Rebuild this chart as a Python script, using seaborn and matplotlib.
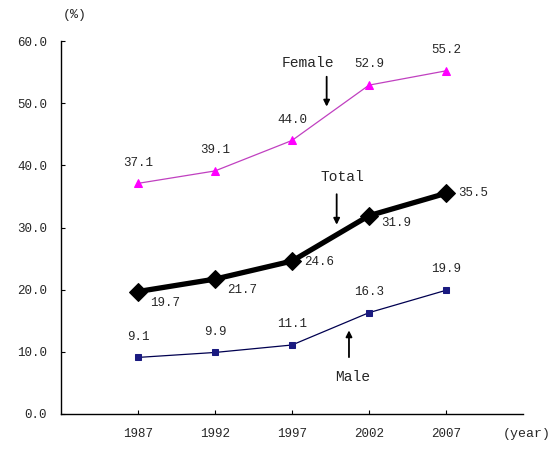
import numpy as np
import pandas as pd
import matplotlib
matplotlib.use("Agg")
import matplotlib.pyplot as plt
import seaborn as sns

years = ["1987", "1992", "1997", "2002", "2007"]
female = [37.1, 39.1, 44.0, 52.9, 55.2]
total = [19.7, 21.7, 24.6, 31.9, 35.5]
male = [9.1, 9.9, 11.1, 16.3, 19.9]

sns.set_style("white")
plt.rcParams['font.family'] = ['Liberation Mono', 'DejaVu Sans']

fig = plt.figure(figsize=(5.6, 4.57), dpi=100)
ax = fig.add_axes([61 / 560, 1 - 414 / 457, (523 - 61) / 560, (414 - 41) / 457])

# lines
sns.lineplot(x=years, y=female, ax=ax, color="#c040c0", lw=0.9, marker="^",
             markersize=6, markerfacecolor="#ff00ff", markeredgecolor="#ff00ff")
sns.lineplot(x=years, y=total, ax=ax, color="black", lw=3.8, marker="D",
             markersize=9.5, markerfacecolor="black", markeredgecolor="black")
sns.lineplot(x=years, y=male, ax=ax, color="#000050", lw=0.9, marker="s",
             markersize=5, markerfacecolor="#1a1a80", markeredgecolor="#1a1a80")

# value labels
for i, v in enumerate(female):
    ax.annotate(f"{v:.1f}", (i, v), xytext=(0, 15), textcoords="offset points",
                ha="center", va="center", fontsize=9)
for i, v in enumerate(male):
    ax.annotate(f"{v:.1f}", (i, v), xytext=(0, 15), textcoords="offset points",
                ha="center", va="center", fontsize=9)
total_dy = [-8, -8, -1, -5, 0]
for i, v in enumerate(total):
    ax.annotate(f"{v:.1f}", (i, v), xytext=(9, total_dy[i]), textcoords="offset points",
                ha="left", va="center", fontsize=9)

# series names with arrows
arrow = dict(arrowstyle="-|>", color="black", lw=1.3, mutation_scale=9)
ax.annotate("", xy=(2.45, 49.0), xytext=(2.45, 54.7), arrowprops=arrow)
ax.text(2.20, 56.5, "Female", ha="center", va="center", fontsize=10.5)
ax.annotate("", xy=(2.58, 30.0), xytext=(2.58, 35.8), arrowprops=arrow)
ax.text(2.66, 38.1, "Total", ha="center", va="center", fontsize=10.5)
ax.annotate("", xy=(2.74, 13.9), xytext=(2.74, 8.7), arrowprops=arrow)
ax.text(2.79, 6.0, "Male", ha="center", va="center", fontsize=10.5)

ax.set_xlim(-1, 5)
ax.set_ylim(0, 60)
ax.set_yticks(np.arange(0, 61, 10))
ax.set_yticklabels([f"{t:.1f}" for t in np.arange(0, 61, 10)], fontsize=9)
ax.set_xticks(range(len(years)))
ax.set_xticklabels(years, fontsize=9)
ax.tick_params(axis="both", direction="in", length=3, width=0.8, color="black", pad=10,
               left=True, bottom=True)
ax.set_xlabel("")
ax.set_ylabel("")
for s in ["top", "right"]:
    ax.spines[s].set_visible(False)
for s in ["left", "bottom"]:
    ax.spines[s].set_color("black")
    ax.spines[s].set_linewidth(1.0)

fig.text(75 / 560, 1 - 15 / 457, "(%)", ha="center", va="center", fontsize=9.5)
fig.text(527 / 560, 1 - 434 / 457, "(year)", ha="center", va="center", fontsize=9.5)

fig.savefig("out.png", dpi=100)
